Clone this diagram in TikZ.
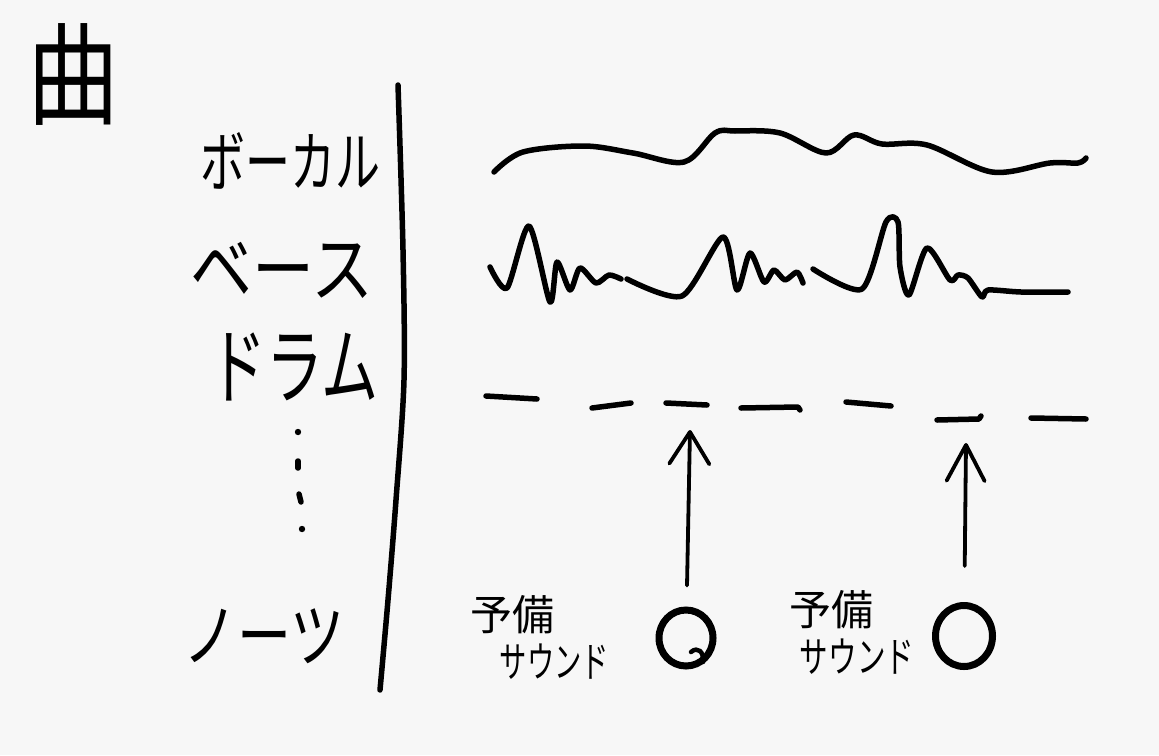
\documentclass[tikz,border=0pt]{standalone}
\usepackage{graphicx}
\usepackage{fontspec}
\newfontfamily\jp{Noto Sans CJK JP}
\usetikzlibrary{arrows.meta,shapes.geometric}
\definecolor{paper}{HTML}{F7F7F7}
\begin{document}
\begin{tikzpicture}[x=1pt,y=-1pt,
  ink/.style={line width=5.5pt, line cap=round, line join=round},
  lab/.style={font=\jp, inner sep=0pt, text=black},
  spare/.style={font=\jp\fontsize{42}{47}\selectfont, inner sep=0pt, align=left},
  circ/.style={ellipse, draw, line width=7pt, inner sep=0pt},
  uparrow/.style={line width=3.8pt, line cap=round, line join=round}]
\fill[paper] (0,0) rectangle (1159,755);
\useasboundingbox (0,0) rectangle (1159,755);

% title
\node[lab] (kyoku) at (73,74) {\scalebox{0.92}[1.12]{\fontsize{100}{110}\selectfont 曲}};

% labels
\node[lab] (vocal) at (290,161) {\scalebox{0.75}[1.1]{\fontsize{60}{70}\selectfont ボーカル}};
\node[lab] (bass) at (282,270) {\scalebox{1}[1.2]{\fontsize{62}{70}\selectfont ベース}};
\node[lab] (drum) at (294,367) {\scalebox{0.95}[1.4]{\fontsize{60}{70}\selectfont ドラム}};
\node[lab] (notes) at (264,636) {\scalebox{1}[1.3]{\fontsize{54}{64}\selectfont ノーツ}};

% vertical ellipsis dots
\fill (298,432) circle (3.2pt);
\draw[ink] (298,461) -- (298,468);
\draw[ink] (299,494) -- (301,502);
\fill (302,529) circle (3.2pt);

% separator line
\draw[ink] plot[smooth, tension=0.5] coordinates {(398,85) (403,250) (404,380) (396,500) (388,600) (380,690)};

% vocal wave
\draw[ink] plot[smooth, tension=0.55] coordinates {(494,172) (523,152) (584,146) (633,153) (684,162) (715,133) (735,131) (780,133) (826,153) (854,135) (882,144) (927,145) (992,172) (1050,163) (1078,163) (1086,158)};

% bass wave
\draw[ink] plot[smooth, tension=0.45] coordinates {(490,267) (507,288) (529,226) (550,302) (557,262) (570,290) (580,268) (596,283) (609,275) (621,279)};
\draw[ink] plot[smooth, tension=0.45] coordinates {(627,279) (682,296) (723,237) (737,290) (750,253) (764,282) (774,270) (785,280) (797,272) (803,283)};
\draw[ink] plot[smooth, tension=0.45] coordinates {(813,269) (862,289) (886,222) (898,222) (900,267) (909,295) (927,248) (950,280) (958,275) (968,278) (982,297) (988,290) (1021,292) (1068,292)};

% drum hits
\draw[ink] (486,396) -- (537,399);
\draw[ink] (592,408) -- (631,403);
\draw[ink] (666,403) -- (707,405);
\draw[ink] (741,408) -- (798,407) -- (800,410);
\draw[ink] (846,402) -- (891,406);
\draw[ink] (937,420) -- (979,419) -- (981,416);
\draw[ink] (1031,418) -- (1086,419);

% spare sound labels
\node[spare] (spare1) at (540,637) {予備\\\hspace*{29pt}\scalebox{0.65}[1]{サウンド}};
\node[spare] (spare2) at (852,632) {予備\\\hspace*{10pt}\scalebox{0.68}[1]{サウンド}};

% notes (circles)
\node[circ, minimum width=54pt, minimum height=56pt] (c1) at (686,638) {};
\draw[line width=4.5pt, line cap=round] (691,652) .. controls (698,646) and (704,652) .. (703,662);
\node[circ, minimum width=57pt, minimum height=61pt] (c2) at (964,636) {};

% arrows to drum hits
\coordinate (tip1) at (690,430);
\coordinate (tip2) at (966,443);
\draw[uparrow, shorten <=21pt, -{Straight Barb[length=32pt,width=40pt,round]}] (c1) -- (tip1);
\draw[uparrow, shorten <=36pt, -{Straight Barb[length=36pt,width=38pt,round]}] (c2) -- (tip2);
\end{tikzpicture}
\end{document}
